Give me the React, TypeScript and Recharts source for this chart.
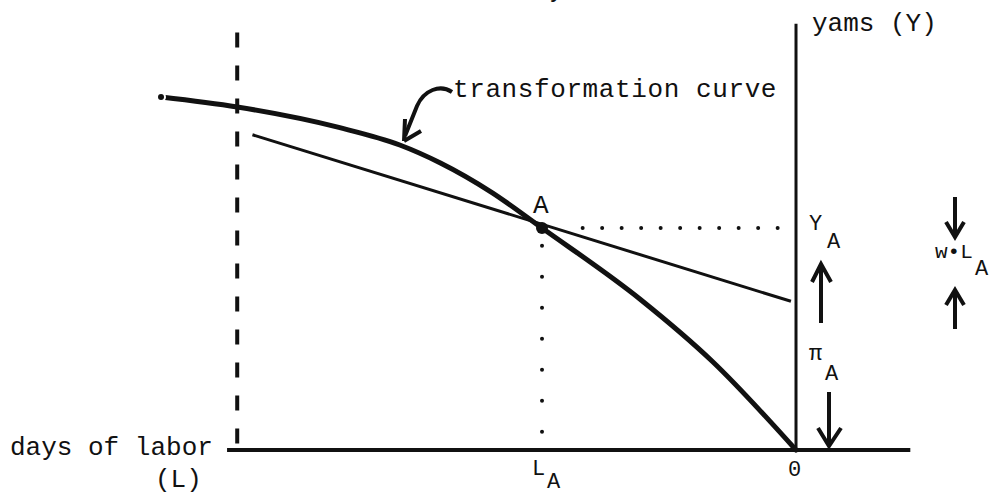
import { LineChart, Line, XAxis, YAxis, ReferenceLine, ReferenceDot } from 'recharts';

// transformation curve, days of labor (L, measured leftward from 0) vs yams (Y)
const laborDays = [250, 220, 180, 156, 140, 120, 100, 61, 33, 0];
const yamsOutput = [159, 154.5, 145.3, 137.4, 129.3, 116.2, 100, 67.6, 40, 0];

// straight wage line through A
const wageLabor = [214, 2];
const wageYams = [142, 67];

// point A
const pointA = { L: 100, Y: 100 };

// dashed limit on labor and axis extents
const laborLimit = 220;
const limitYams = [3, 191];
const xAxisRange = [-45, 224];
const yAxisTop = 192;

const curveData = laborDays.map((L, i) => ({ L, Y: yamsOutput[i] }));
const wageData = wageLabor.map((L, i) => ({ L, Y: wageYams[i] }));
const hDots = [{ L: pointA.L - 16, Y: pointA.Y }, { L: 3, Y: pointA.Y }];
const vDots = [{ L: pointA.L, Y: pointA.Y - 8 }, { L: pointA.L, Y: 6 }];
const limitData = limitYams.map((Y) => ({ L: laborLimit, Y }));

const ink = '#111';
const mono = '"Liberation Mono", "DejaVu Sans Mono", monospace';

const App = () => {
  return (
    <div style={{ position: 'absolute', left: 0, top: 0, width: 1008, height: 494, background: '#fff' }}>
      <LineChart width={1008} height={494} margin={{ top: 0, right: 0, bottom: 0, left: 0 }}>
        <XAxis dataKey="L" type="number" domain={[-83.46, 313.39]} reversed hide allowDataOverflow />
        <YAxis dataKey="Y" type="number" domain={[-19.8, 202.7]} hide allowDataOverflow />
        <ReferenceLine
          segment={[{ x: xAxisRange[0], y: 0 }, { x: xAxisRange[1], y: 0 }]}
          stroke={ink}
          strokeWidth={4}
        />
        <ReferenceLine
          segment={[{ x: 0, y: 0 }, { x: 0, y: yAxisTop }]}
          stroke={ink}
          strokeWidth={3}
        />
        <Line
          data={limitData}
          dataKey="Y"
          stroke={ink}
          strokeWidth={4}
          strokeDasharray="15 18"
          dot={false}
          isAnimationActive={false}
        />
        <Line
          data={hDots}
          dataKey="Y"
          stroke={ink}
          strokeWidth={4}
          strokeDasharray="0 19.5"
          strokeLinecap="round"
          dot={false}
          isAnimationActive={false}
        />
        <Line
          data={vDots}
          dataKey="Y"
          stroke={ink}
          strokeWidth={4}
          strokeDasharray="0 31"
          strokeLinecap="round"
          dot={false}
          isAnimationActive={false}
        />
        <Line
          data={wageData}
          dataKey="Y"
          type="linear"
          stroke={ink}
          strokeWidth={3}
          strokeDasharray="none"
          dot={false}
          isAnimationActive={false}
        />
        <Line
          data={curveData}
          dataKey="Y"
          type="monotone"
          stroke={ink}
          strokeWidth={5}
          strokeLinecap="round"
          strokeDasharray="none"
          dot={false}
          isAnimationActive={false}
        />
        <ReferenceDot x={pointA.L} y={pointA.Y} r={6} fill={ink} stroke="none" />
      </LineChart>

      <svg
        width={1008}
        height={494}
        style={{ position: 'absolute', left: 0, top: 0, pointerEvents: 'none' }}
        fontFamily={mono}
        fill={ink}
      >
        <text x={549} y={-3} fontSize={26}>y</text>
        <text x={812} y={31} fontSize={26}>yams (Y)</text>
        <text x={453} y={97} fontSize={26} letterSpacing={0.6}>transformation curve</text>
        <path
          d="M452 92 C440 84 424 90 417 106 L405 136"
          fill="none"
          stroke={ink}
          strokeWidth={4}
        />
        <path d="M404 141 L405 119 M404 141 L421 131" fill="none" stroke={ink} strokeWidth={4} />
        <text x={533} y={213} fontSize={26}>A</text>
        <text x={809} y={230} fontSize={22}>Y</text>
        <text x={827} y={248} fontSize={22}>A</text>
        <text x={809} y={360} fontSize={22}>π</text>
        <text x={825} y={380} fontSize={22}>A</text>
        <text x={10} y={455} fontSize={26}>days of labor</text>
        <text x={155} y={487} fontSize={26}>(L)</text>
        <text x={532} y={475} fontSize={22}>L</text>
        <text x={547} y={488} fontSize={22}>A</text>
        <text x={788} y={476} fontSize={22}>0</text>
        <text x={935} y={258} fontSize={21}>w•L</text>
        <text x={975} y={275} fontSize={22}>A</text>

        {/* arrows beside the Y axis */}
        <g fill="none" stroke={ink} strokeWidth={4}>
          <path d="M821 323 L821 266 M812 282 L821 264 L831 282" />
          <path d="M829 392 L829 445 M818 428 L829 446 L841 428" />
          <path d="M955 197 L955 236 M946 222 L955 237 L964 222" />
          <path d="M955 329 L955 291 M946 305 L955 290 L964 305" />
        </g>
      </svg>
    </div>
  );
};

export default App;
